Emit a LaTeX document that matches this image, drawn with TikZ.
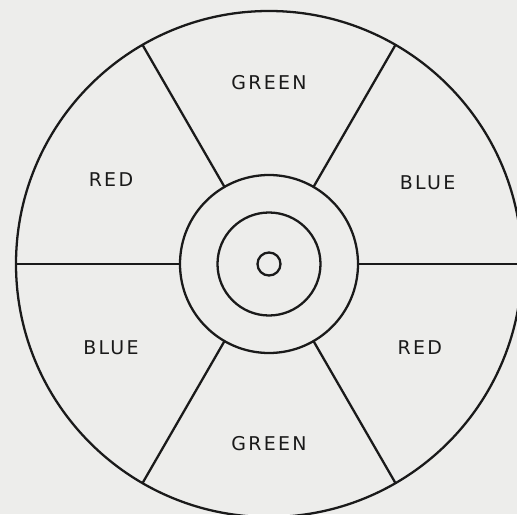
\documentclass[tikz,border=0pt]{standalone}
\usepackage{fontspec}
\setmainfont{DejaVu Sans}[LetterSpace=12]
\usepackage{tikz}
\usepackage{xcolor}
\definecolor{paper}{HTML}{EDEDEB}
\definecolor{ink}{HTML}{1A1A1A}

\begin{document}
\begin{tikzpicture}[
    ring/.style={draw=ink, line width=1.3pt, circle, inner sep=0pt, outer sep=0pt},
    spoke/.style={draw=ink, line width=1.3pt},
    colorlabel/.style={text=ink, font=\fontsize{10.8}{12}\selectfont}
  ]
    \useasboundingbox (-5.38,-5.00) rectangle (4.96,5.28);
    \fill[paper] (-5.38,-5.00) rectangle (4.96,5.28);
    \clip (-5.38,-5.00) rectangle (4.96,5.28);
    % wheel
    \node[ring, minimum size=10.12cm] (outer) at (0,0) {};
    \node[ring, minimum size=3.56cm] (middle) at (0,0) {};
    \node[ring, minimum size=2.06cm] (inner) at (0,0) {};
    \node[ring, minimum size=0.46cm] (hub) at (0,0) {};
    \foreach \a in {0,60,...,300}
      \draw[spoke] (middle.\a) -- (outer.\a);
    % sectors
    \node[colorlabel] (green1) at (90:3.62) {GREEN};
    \node[colorlabel] (red1) at (152:3.58) {RED};
    \node[colorlabel] (blue1) at (27:3.56) {BLUE};
    \node[colorlabel] (blue2) at (208:3.58) {BLUE};
    \node[colorlabel] (red2) at (331:3.45) {RED};
    \node[colorlabel] (green2) at (270:3.60) {GREEN};
  \end{tikzpicture}
\end{document}
